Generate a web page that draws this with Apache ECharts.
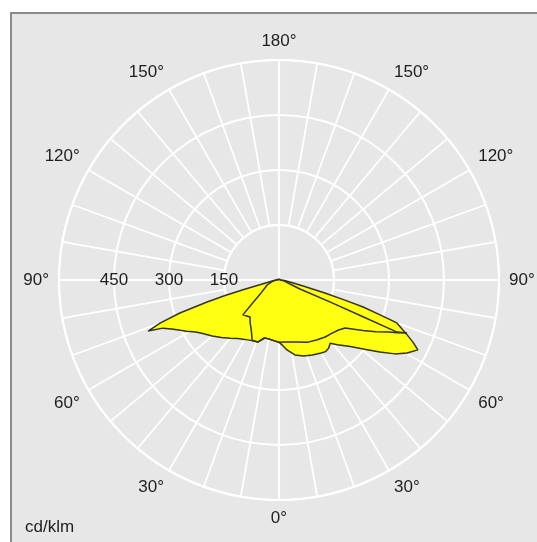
<!DOCTYPE html>
<html>
<head>
<meta charset="utf-8">
<script src="https://cdn.jsdelivr.net/npm/echarts@6/dist/echarts.min.js"></script>
<style>
  html, body { margin: 0; padding: 0; background: #ffffff; }
  #chart { width: 537px; height: 542px; }
</style>
</head>
<body>
<div id="chart"></div>
<script>
// Luminous intensity distribution, cd/klm, angle gamma measured from nadir (0°) to zenith (180°).
// Plane A: wide lobe on the left half, long low lobe on the right half.
const planeALeftGamma = [0, 5, 10, 14, 19, 24, 30, 35, 40, 45, 50, 55, 58, 61, 63, 65.5, 67.5, 68.7, 70.1, 71.6, 73, 74, 75, 76, 78, 82, 86, 90, 120, 150, 180];
const planeALeftCd    = [170, 166, 163, 163, 179, 181, 187, 195, 207, 222, 238, 254, 268, 288, 302, 322, 343, 383, 345, 285, 205, 153, 97, 54, 30, 19, 10, 5, 3, 2, 2];
const planeARightGamma = [0, 3, 6.5, 12, 18, 24, 30, 33, 36, 39, 42, 47, 51, 54.5, 57.5, 60.3, 63.3, 65, 67, 70, 71, 72.2, 73, 74.2, 76, 79, 85, 90, 120, 150, 180];
const planeARightCd    = [172, 178, 192, 209, 218, 224, 230, 233, 230, 222, 238, 266, 300, 338, 375, 402, 424, 404, 378, 342, 290, 241, 188, 130, 70, 35, 15, 5, 3, 2, 2];
// Plane B: narrow lobe on the left half, thin lobe on the right half.
const planeBLeftGamma = [0, 5, 10, 14, 19, 24, 29, 34.6, 38, 42, 46, 50, 54, 60, 67, 75, 82, 90, 120, 150, 180];
const planeBLeftCd    = [170, 166, 163, 163, 179, 180, 156, 139, 128, 132, 137, 85, 61, 45, 35, 22, 15, 5, 3, 2, 2];
const planeBRightGamma = [0, 5, 10, 15, 25, 32, 39, 45, 50, 54, 59, 62, 64.5, 66, 67.5, 66.2, 66.4, 66.7, 66.8, 70, 78, 90, 120, 150, 180];
const planeBRightCd    = [172, 170, 172, 175, 187, 193, 200, 205, 212, 223, 267, 300, 330, 353, 378, 352, 250, 151, 62, 32, 15, 5, 3, 2, 2];

// Intensity rings and angle labels
const ringValues = [0, 150, 300, 450, 600];
const gammaLabelStep = 30;

// Angle axis starts at the left (west) and runs clockwise:
// left half: gamma 0..90 -> 270..360, gamma 90..180 -> 0..90; right half: gamma -> 270 - gamma.
function toAxisAngle(g, side) {
  if (side === 'left') return g <= 90 ? 270 + g : g - 90;
  return 270 - g;
}
function gammaOf(v) {
  if (v <= 90) return 90 + v;
  if (v <= 270) return 270 - v;
  return v - 270;
}
function closedCurve(lg, lc, rg, rc) {
  const pts = [];
  for (let i = lg.length - 1; i >= 0; i--) pts.push([lc[i], toAxisAngle(lg[i], 'left')]);
  for (let i = 0; i < rg.length; i++) pts.push([rc[i], toAxisAngle(rg[i], 'right')]);
  return pts;
}
const curveA = closedCurve(planeALeftGamma, planeALeftCd, planeARightGamma, planeARightCd);
const curveB = closedCurve(planeBLeftGamma, planeBLeftCd, planeBRightGamma, planeBRightCd);

const FONT = "'Liberation Sans', Arial, sans-serif";
const GRID = '#ffffff';
const center = [279, 280];

const chart = echarts.init(document.getElementById('chart'), null, { renderer: 'canvas' });
chart.setOption({
  animation: false,
  backgroundColor: '#ffffff',
  graphic: [{
    type: 'rect', z: -10, silent: true,
    shape: { x: 11, y: 13, width: 560, height: 560 },
    style: { fill: '#e7e7e7', stroke: '#8a8a8a', lineWidth: 2 }
  }],
  title: {
    text: 'cd/klm', left: 20, top: 514,
    textStyle: { fontFamily: FONT, fontSize: 17, fontWeight: 'normal', color: '#1e1e1e' }
  },
  polar: [
    { center: center, radius: [55, 220] },
    { center: center, radius: 220 }
  ],
  angleAxis: [{
    polarIndex: 0, type: 'value', min: 0, max: 360, interval: 10, startAngle: 180, clockwise: true,
    axisLine: { show: true, lineStyle: { color: GRID, width: 2 } },
    axisTick: { show: false },
    splitLine: { show: true, lineStyle: { color: GRID, width: 1.8 } },
    axisLabel: {
      margin: 10, fontFamily: FONT, fontSize: 17, color: '#1e1e1e',
      formatter: v => (v % gammaLabelStep !== 0 || v >= 360) ? '' : gammaOf(v) + '°'
    }
  }, {
    polarIndex: 1, type: 'value', min: 0, max: 360, interval: 90, startAngle: 180, clockwise: true,
    axisLine: { show: false }, axisTick: { show: false }, axisLabel: { show: false },
    splitLine: { show: true, lineStyle: { color: GRID, width: 2.2 } }
  }],
  radiusAxis: [{
    polarIndex: 0, type: 'value', min: 0, max: 1,
    axisLine: { show: false }, axisTick: { show: false }, axisLabel: { show: false }, splitLine: { show: false }
  }, {
    polarIndex: 1, type: 'value', min: ringValues[0], max: ringValues[ringValues.length - 1], interval: 150,
    axisLine: { show: false }, axisTick: { show: false },
    splitLine: { show: true, lineStyle: { color: GRID, width: 2 } },
    axisLabel: {
      margin: 0, align: 'center', verticalAlign: 'middle', fontFamily: FONT, fontSize: 17, color: '#1e1e1e',
      formatter: v => (v === ringValues[0] || v === ringValues[ringValues.length - 1]) ? '' : String(v)
    }
  }],
  series: [
    { type: 'line', coordinateSystem: 'polar', polarIndex: 1, data: curveA, showSymbol: false, z: 3,
      lineStyle: { width: 0 }, areaStyle: { color: '#ffff12', opacity: 1 } },
    { type: 'line', coordinateSystem: 'polar', polarIndex: 1, data: curveB, showSymbol: false, z: 3,
      lineStyle: { width: 0 }, areaStyle: { color: '#ffff12', opacity: 1 } },
    { type: 'line', coordinateSystem: 'polar', polarIndex: 1, data: curveA, showSymbol: false, z: 4,
      lineStyle: { color: '#35351a', width: 1.5 } },
    { type: 'line', coordinateSystem: 'polar', polarIndex: 1, data: curveB, showSymbol: false, z: 4,
      lineStyle: { color: '#35351a', width: 1.5 } }
  ]
});
</script>
</body>
</html>
